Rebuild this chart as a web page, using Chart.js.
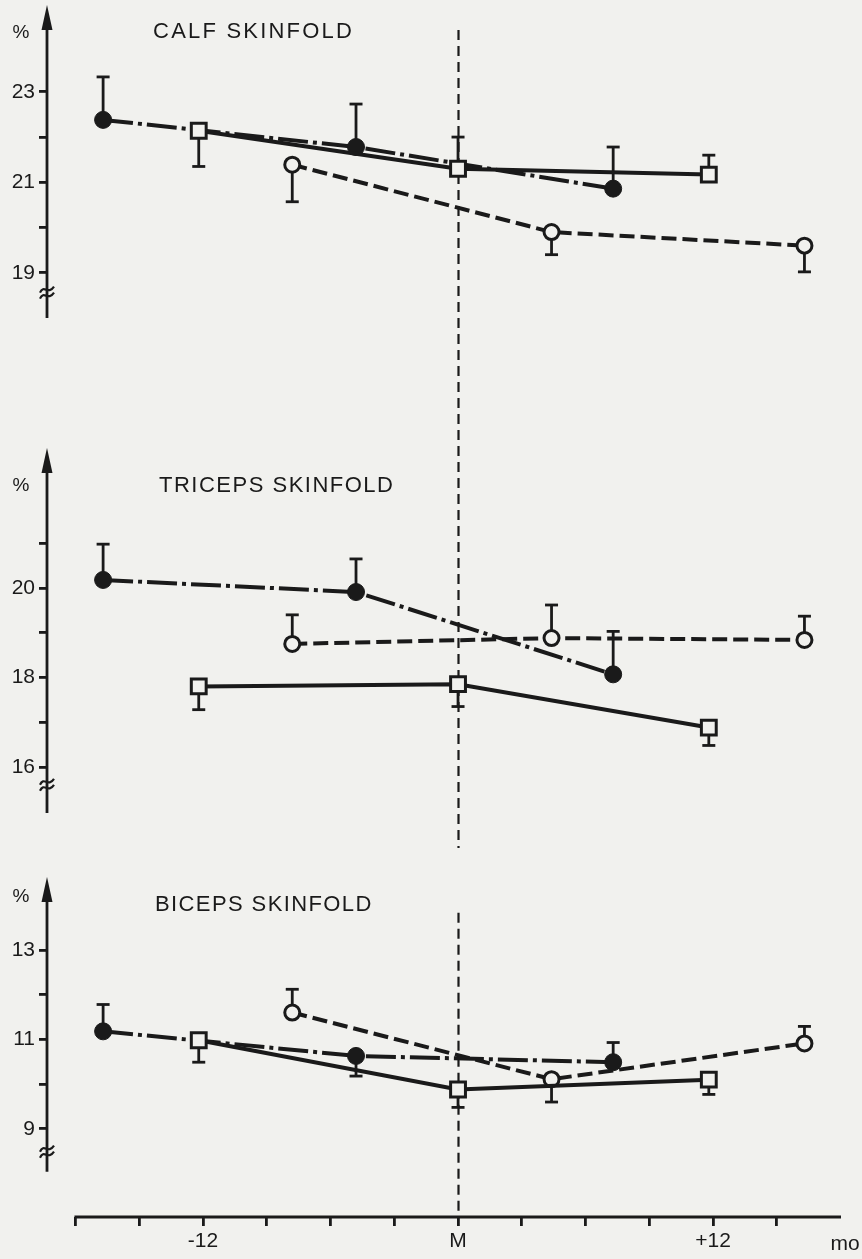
<!DOCTYPE html>
<html>
<head>
<meta charset="utf-8">
<script src="https://cdn.jsdelivr.net/npm/chart.js@4.4.0/dist/chart.umd.min.js"></script>
<style>
  html, body { margin: 0; padding: 0; background: #f1f1ee; }
  body { width: 862px; height: 1259px; position: relative; overflow: hidden; }
  canvas { position: absolute; left: 0; }
</style>
</head>
<body>
<canvas id="calf" width="862" height="440" style="top:-10px"></canvas>
<canvas id="triceps" width="862" height="420" style="top:430px"></canvas>
<canvas id="biceps" width="862" height="409" style="top:850px"></canvas>
<script>
// months relative to menopause (M = 0)
const filledMonths = [-16.7, -4.8, 7.3];
const squareMonths = [-12.2, 0, 11.8];
const openMonths = [-7.8, 4.4, 16.3];

// calf skinfold (%), plus the end value of each error bar
const calfFilled = [22.38, 21.78, 20.86];
const calfFilledErr = [23.33, 22.73, 21.78];
const calfSquare = [22.14, 21.30, 21.17];
const calfSquareErr = [21.35, 22.0, 21.6];
const calfOpen = [21.39, 19.90, 19.60];
const calfOpenErr = [20.57, 19.40, 19.02];

// triceps skinfold (%)
const tricepsFilled = [20.18, 19.91, 18.07];
const tricepsFilledErr = [20.98, 20.65, 19.03];
const tricepsSquare = [17.80, 17.85, 16.88];
const tricepsSquareErr = [17.28, 17.35, 16.48];
const tricepsOpen = [18.75, 18.88, 18.84];
const tricepsOpenErr = [19.40, 19.62, 19.37];

// biceps skinfold (%)
const bicepsFilled = [11.18, 10.63, 10.49];
const bicepsFilledErr = [11.78, 10.18, 10.93];
const bicepsSquare = [10.98, 9.88, 10.10];
const bicepsSquareErr = [10.49, 9.48, 9.77];
const bicepsOpen = [11.60, 10.11, 10.91];
const bicepsOpenErr = [12.12, 9.60, 11.29];

// axes
const xTickValues = [-18, -15, -12, -9, -6, -3, 0, 3, 6, 9, 12, 15];
const xTickLabels = { '-12': '-12', '0': 'M', '12': '+12' };
const calfTicks = [19, 20, 21, 22, 23];
const calfTickLabels = [19, 21, 23];
const tricepsTicks = [16, 17, 18, 19, 20, 21];
const tricepsTickLabels = [16, 18, 20];
const bicepsTicks = [9, 10, 11, 12, 13];
const bicepsTickLabels = [9, 11, 13];

const INK = '#1a1a1a';
const PAPER = '#f1f1ee';
const FONT = '"Liberation Sans", Arial, sans-serif';

function line(ctx, x1, y1, x2, y2) {
  ctx.beginPath();
  ctx.moveTo(x1, y1);
  ctx.lineTo(x2, y2);
  ctx.stroke();
}

// axis arrow, break mark, M line, titles and error bars
const decor = {
  id: 'decor',
  beforeDatasetsDraw(chart, args, o) {
    const ctx = chart.ctx, xs = chart.scales.x, ys = chart.scales.y, a = chart.chartArea;
    ctx.save();
    ctx.strokeStyle = INK;
    ctx.fillStyle = INK;

    // dashed line at M
    const mx = Math.round(xs.getPixelForValue(0)) + 0.5;
    const my0 = o.mFrom == null ? 0 : ys.getPixelForValue(o.mFrom);
    const my1 = o.mTo == null ? chart.height : ys.getPixelForValue(o.mTo);
    ctx.lineWidth = 2.2;
    ctx.setLineDash([10, 6]);
    line(ctx, mx, my0, mx, my1);
    ctx.setLineDash([]);

    // y axis with arrow head
    const ax = a.left;
    ctx.lineWidth = 2.8;
    line(ctx, ax, a.top + 10, ax, ys.getPixelForValue(o.axisEnd));
    ctx.beginPath();
    ctx.moveTo(ax, a.top);
    ctx.lineTo(ax - 5.5, a.top + 25);
    ctx.lineTo(ax + 5.5, a.top + 25);
    ctx.closePath();
    ctx.fill();

    // axis break
    const yk = ys.getPixelForValue(o.breakAt);
    ctx.lineWidth = 2.2;
    [-3, 3].forEach(d => {
      ctx.beginPath();
      ctx.moveTo(ax - 7, yk + d + 3);
      ctx.bezierCurveTo(ax - 3, yk + d - 6, ax + 1, yk + d + 6, ax + 7, yk + d - 3);
      ctx.stroke();
    });

    // labels
    ctx.textBaseline = 'middle';
    ctx.textAlign = 'center';
    ctx.font = '19px ' + FONT;
    ctx.fillText('%', ax - 26, ys.getPixelForValue(o.pctY));
    ctx.textAlign = 'left';
    ctx.font = '22px ' + FONT;
    ctx.letterSpacing = o.spacing;
    ctx.fillText(o.title, xs.getPixelForValue(o.titleX), ys.getPixelForValue(o.titleY));
    ctx.letterSpacing = '0px';

    // bottom x axis line
    if (o.xAxis) {
      ctx.lineWidth = 2.8;
      line(ctx, xs.getPixelForValue(xTickValues[0]) - 1, a.bottom, a.right, a.bottom);
      ctx.textAlign = 'center';
      ctx.font = '21px ' + FONT;
      ctx.fillText('mo', a.right + 4, a.bottom + 27);
    }

    // error bars
    ctx.lineWidth = 2.8;
    chart.data.datasets.forEach((ds, i) => {
      const meta = chart.getDatasetMeta(i);
      ds.errTo.forEach((v, j) => {
        const pt = meta.data[j];
        const ye = ys.getPixelForValue(v);
        line(ctx, pt.x, pt.y, pt.x, ye);
        line(ctx, pt.x - 6.5, ye, pt.x + 6.5, ye);
      });
    });
    ctx.restore();
  }
};

function pts(xv, yv) {
  return xv.map((x, i) => ({ x: x, y: yv[i] }));
}

function panel(id, p) {
  const xAxis = !!p.xAxis;
  return new Chart(document.getElementById(id), {
    type: 'line',
    data: {
      datasets: [
        {
          data: pts(squareMonths, p.square), errTo: p.squareErr,
          borderColor: INK, borderWidth: 4,
          pointStyle: 'rect', pointRadius: 10.5, pointBorderWidth: 3,
          pointBackgroundColor: PAPER, pointBorderColor: INK
        },
        {
          data: pts(filledMonths, p.filled), errTo: p.filledErr,
          borderColor: INK, borderWidth: 4, borderDash: [30, 5, 4, 5],
          pointStyle: 'circle', pointRadius: 8.5, pointBorderWidth: 1,
          pointBackgroundColor: INK, pointBorderColor: INK
        },
        {
          data: pts(openMonths, p.open), errTo: p.openErr,
          borderColor: INK, borderWidth: 4, borderDash: [15, 6],
          pointStyle: 'circle', pointRadius: 7.5, pointBorderWidth: 3,
          pointBackgroundColor: PAPER, pointBorderColor: INK
        }
      ]
    },
    options: {
      responsive: false,
      animation: false,
      events: [],
      layout: { padding: { left: 0, right: 21, top: p.padTop, bottom: p.padBottom } },
      plugins: {
        legend: { display: false },
        tooltip: { enabled: false },
        decor: {
          title: p.title, titleX: p.titleX, titleY: p.titleY, pctY: p.pctY, spacing: p.spacing,
          axisEnd: p.axisEnd, breakAt: p.breakAt, mFrom: p.mFrom, mTo: p.mTo, xAxis: xAxis
        }
      },
      scales: {
        x: {
          type: 'linear', min: -19.34, max: 18.02,
          display: xAxis, position: 'bottom',
          border: { display: false },
          grid: { drawOnChartArea: false, drawTicks: true, tickLength: 9, lineWidth: 2.8, color: INK },
          ticks: {
            color: INK, font: { family: FONT, size: 21 }, padding: 3,
            autoSkip: false, maxRotation: 0,
            callback: v => xTickLabels[String(v)] || ''
          },
          afterBuildTicks: s => { s.ticks = xTickValues.map(v => ({ value: v })); },
          afterFit: s => {
            if (xAxis) s.height = 42;
            s.paddingLeft = 0;
            s.paddingRight = 0;
          }
        },
        y: {
          type: 'linear', min: p.min, max: p.max,
          border: { display: false },
          grid: { drawOnChartArea: false, drawTicks: true, tickLength: 8, lineWidth: 2.8, color: INK },
          ticks: {
            color: INK, font: { family: FONT, size: 21 }, padding: 4,
            autoSkip: false,
            callback: v => p.labels.includes(v) ? String(v) : ''
          },
          afterBuildTicks: s => { s.ticks = p.ticks.map(v => ({ value: v })); },
          afterFit: s => { s.width = 47; s.paddingTop = 0; s.paddingBottom = 0; }
        }
      }
    },
    plugins: [decor]
  });
}

panel('calf', {
  title: 'CALF SKINFOLD', titleX: -14.35, titleY: 24.33, pctY: 24.3, spacing: '2.2px',
  min: 18.0, max: 24.92, ticks: calfTicks, labels: calfTickLabels,
  padTop: 15, padBottom: 112, axisEnd: 18.0, breakAt: 18.56, mFrom: 24.37, mTo: null,
  filled: calfFilled, filledErr: calfFilledErr,
  square: calfSquare, squareErr: calfSquareErr,
  open: calfOpen, openErr: calfOpenErr
});

panel('triceps', {
  title: 'TRICEPS SKINFOLD', titleX: -14.07, titleY: 22.28, pctY: 22.28, spacing: '1.5px',
  min: 14.97, max: 23.13, ticks: tricepsTicks, labels: tricepsTickLabels,
  padTop: 18, padBottom: 37, axisEnd: 14.97, breakAt: 15.6, mFrom: null, mTo: 14.19,
  filled: tricepsFilled, filledErr: tricepsFilledErr,
  square: tricepsSquare, squareErr: tricepsSquareErr,
  open: tricepsOpen, openErr: tricepsOpenErr
});

panel('biceps', {
  title: 'BICEPS SKINFOLD', titleX: -14.26, titleY: 14.0, pctY: 14.18, spacing: '1.4px',
  min: 7.03, max: 14.63, ticks: bicepsTicks, labels: bicepsTickLabels,
  padTop: 27, padBottom: 0, axisEnd: 8.04, breakAt: 8.49, mFrom: 13.83, mTo: 7.03,
  xAxis: true,
  filled: bicepsFilled, filledErr: bicepsFilledErr,
  square: bicepsSquare, squareErr: bicepsSquareErr,
  open: bicepsOpen, openErr: bicepsOpenErr
});
</script>
</body>
</html>
